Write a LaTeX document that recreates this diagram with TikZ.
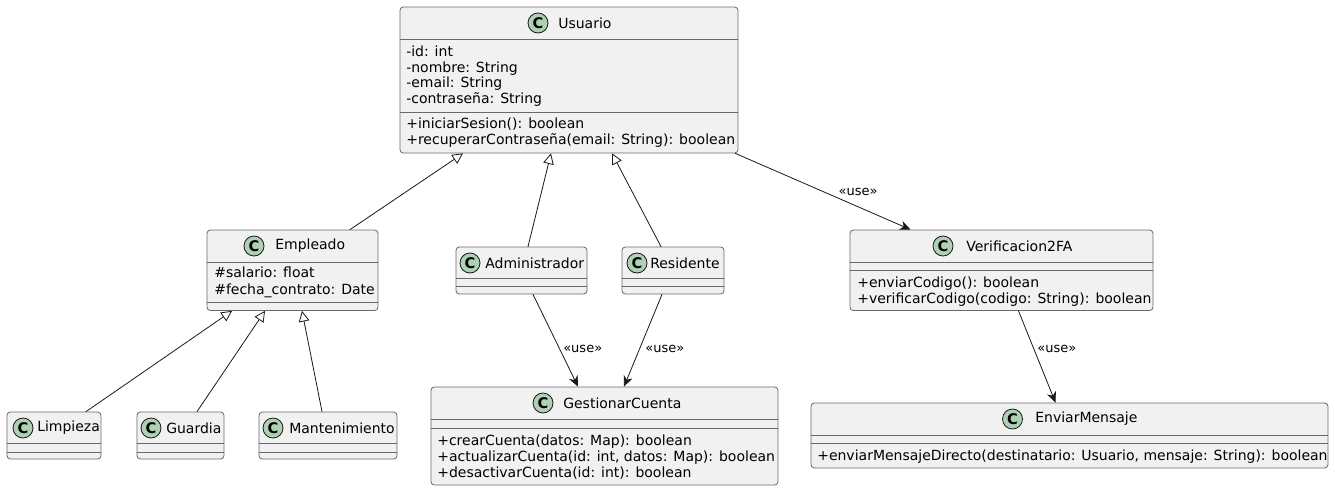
\documentclass[tikz,border=0pt]{standalone}
\usepackage{fontspec}
\setmainfont{DejaVu Sans}
\usetikzlibrary{arrows.meta,calc,fit}
\definecolor{boxc}{HTML}{F1F1F1}
\definecolor{bordc}{HTML}{6A6A6A}
\definecolor{linec}{HTML}{181818}
\definecolor{circc}{HTML}{ADD1B2}
\tikzset{
	cls/.style={draw=bordc,fill=boxc,line width=0.6pt,rounded corners=2.5pt,inner sep=0pt},
	circ/.style={circle,draw=linec,fill=circc,line width=0.6pt,minimum size=15pt,inner sep=0pt,font=\bfseries\fontsize{11}{11}\selectfont},
	ttl/.style={anchor=west,inner sep=0pt,font=\fontsize{10.5}{12}\selectfont},
	mem/.style={anchor=base west,inner sep=0pt,font=\fontsize{10.5}{12}\selectfont},
	sep/.style={draw=bordc,line width=0.6pt},
	gen/.style={draw=linec,line width=0.6pt,-{Triangle[length=8pt,width=8pt,fill=white]}},
	use/.style={draw=linec,line width=0.6pt,-{Stealth[length=8pt,width=7pt,inset=2.5pt]}},
	lbl/.style={inner sep=1pt,font=\fontsize{9.75}{11}\selectfont}
}
\begin{document}
\begin{tikzpicture}[x=0.75pt,y=-0.75pt,line cap=round,line join=round]
	\useasboundingbox (0,0) rectangle (1335,490);
	%Clases
	\node[cls,fit={(400,7)(738,153)}] (usu) {};
	\draw[sep] (400,39)--(738,39) (400,112.5)--(738,112.5);
	\node[circ] (usu-c) at (538,23) {C};
	\node[ttl] (usu-t) at (558,23) {Usuario};
	\foreach \t [count=\i] in {-id: int,-nombre: String,-email: String,-contraseña: String}
	\node[mem] (usu-a\i) at (406,{56.5+15.7*(\i-1)}) {\t};
	\foreach \t [count=\i] in {+iniciarSesion(): boolean,{+recuperarContraseña(email: String): boolean}}
	\node[mem] (usu-m\i) at (406,{128.5+16*(\i-1)}) {\t};

	\node[cls,fit={(207,230)(378,310.5)}] (emp) {};
	\draw[sep] (207,262)--(378,262) (207,302)--(378,302);
	\node[circ] (emp-c) at (254,246) {C};
	\node[ttl] (emp-t) at (275,246) {Empleado};
	\node[mem] (emp-a1) at (214,277.5) {\#salario: float};
	\node[mem] (emp-a2) at (214,294) {\#fecha\_contrato: Date};

	\node[cls,fit={(456,247)(587,294)}] (adm) {};
	\draw[sep] (456,278)--(587,278) (456,286)--(587,286);
	\node[circ] (adm-c) at (470,263) {C};
	\node[ttl] (adm-t) at (485,263) {Administrador};

	\node[cls,fit={(622,247)(724,294)}] (res) {};
	\draw[sep] (622,278)--(724,278) (622,286)--(724,286);
	\node[circ] (res-c) at (637,263) {C};
	\node[ttl] (res-t) at (650,263) {Residente};

	\node[cls,fit={(850,230)(1153,310.5)}] (ver) {};
	\draw[sep] (850,262)--(1153,262) (850,270)--(1153,270);
	\node[circ] (ver-c) at (943,246) {C};
	\node[ttl] (ver-t) at (966,246) {Verificacion2FA};
	\node[mem] (ver-m1) at (857,287) {+enviarCodigo(): boolean};
	\node[mem] (ver-m2) at (857,303) {+verificarCodigo(codigo: String): boolean};

	\node[cls,fit={(7,412)(101,459)}] (lim) {};
	\draw[sep] (7,443)--(101,443) (7,452)--(101,452);
	\node[circ] (lim-c) at (23,428) {C};
	\node[ttl] (lim-t) at (37,428) {Limpieza};

	\node[cls,fit={(137,412)(224,459)}] (gua) {};
	\draw[sep] (137,443)--(224,443) (137,452)--(224,452);
	\node[circ] (gua-c) at (151,428) {C};
	\node[ttl] (gua-t) at (166,428) {Guardia};

	\node[cls,fit={(259,412)(397,459)}] (man) {};
	\draw[sep] (259,443)--(397,443) (259,452)--(397,452);
	\node[circ] (man-c) at (273,428) {C};
	\node[ttl] (man-t) at (289,428) {Mantenimiento};

	\node[cls,fit={(431,387)(778,485)}] (ges) {};
	\draw[sep] (431,419.5)--(778,419.5) (431,428)--(778,428);
	\node[circ] (ges-c) at (543,403) {C};
	\node[ttl] (ges-t) at (563,403) {GestionarCuenta};
	\foreach \t [count=\i] in {{+crearCuenta(datos: Map): boolean},{+actualizarCuenta(id: int, datos: Map): boolean},{+desactivarCuenta(id: int): boolean}}
	\node[mem] (ges-m\i) at (437,{445.5+16*(\i-1)}) {\t};

	\node[cls,fit={(811,403)(1328,468)}] (env) {};
	\draw[sep] (811,435)--(1328,435) (811,443)--(1328,443);
	\node[circ] (env-c) at (1012.5,419) {C};
	\node[ttl] (env-t) at (1035,419) {EnviarMensaje};
	\node[mem] (env-m1) at (817,460) {+enviarMensajeDirecto(destinatario: Usuario, mensaje: String): boolean};

	%Herencia
	\draw[gen] ($(emp.north)+(57.5,0)$)--($(usu.south)+(-106,0)$);
	\draw[gen] ($(adm.north)+(6.5,0)$)--($(usu.south)+(-18,0)$);
	\draw[gen] ($(res.north)+(-12,0)$)--($(usu.south)+(43,0)$);
	\draw[gen] ($(lim.north)+(32,0)$)--($(emp.south)+(-60.5,0)$);
	\draw[gen] ($(gua.north)+(16.5,0)$)--($(emp.south)+(-27.5,0)$);
	\draw[gen] ($(man.north)+(-6,0)$)--($(emp.south)+(9.5,0)$);
	%Dependencias
	\draw[use] ($(usu.south east)+(-3,0)$)--($(ver.north)+(-91,0)$)
		node[lbl,pos=0.5,anchor=west,xshift=10.5pt] {«use»};
	\draw[use] ($(adm.south)+(11.5,0)$)--($(ges.north)+(-26.5,0)$)
		node[lbl,pos=0.59,anchor=west,xshift=1.5pt] {«use»};
	\draw[use] ($(res.south)+(-11,0)$)--($(ges.north)+(19.5,0)$)
		node[lbl,pos=0.59,anchor=west,xshift=3pt] {«use»};
	\draw[use] ($(ver.south)+(17,0)$)--($(env.north)+(-14,0)$)
		node[lbl,pos=0.41,anchor=west,xshift=1.5pt] {«use»};
\end{tikzpicture}
\end{document}
